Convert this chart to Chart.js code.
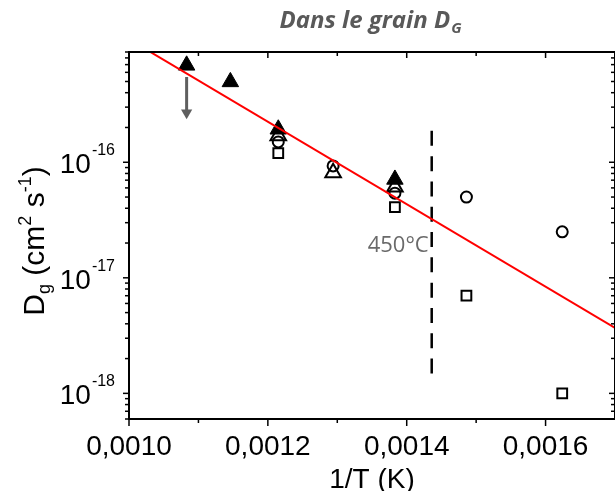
<!DOCTYPE html>
<html>
<head>
<meta charset="utf-8">
<script src="https://cdn.jsdelivr.net/npm/chart.js@4.4.0/dist/chart.umd.min.js"></script>
<style>
  html, body { margin: 0; padding: 0; background: #fff; overflow: hidden; }
  #wrap { width: 615px; height: 491px; position: relative; }
  #c { display: block; }
</style>
</head>
<body>
<div id="wrap"><canvas id="c"></canvas></div>
<script>
// 1/T of the annealing temperatures (K^-1)
const invT = [0.001083, 0.001146, 0.001215, 0.001294, 0.001383, 0.001486, 0.001624];

// Grain diffusion coefficients D_g (cm2 s-1), one list per marker family
const filledTriangles = [6.9e-16, 4.96e-16, 1.93e-16, null, 7.1e-17, null, null];
const openTriangles   = [null, null, 1.7e-16, 8.1e-17, 6.1e-17, null, null];
const openCircles     = [null, null, 1.5e-16, 9.3e-17, 5.4e-17, 5.0e-17, 2.5e-17];
const openSquares     = [null, null, 1.2e-16, null, 4.1e-17, 7.0e-18, 1.0e-18];

// Arrhenius fit line (end points)
const fitX = [0.0010, 0.0017];
const fitY = [1.16e-15, 3.68e-18];

// Upper-bound arrow under the 650 °C point
const arrowX = [0.001083, 0.001083];
const arrowY = [5.48e-16, 2.68e-16];

// Vertical 450 °C limit
const limitX = [0.001436, 0.001436];
const limitY = [1.87e-16, 1.38e-18];
const limitLabel = '450°C';

// Axes
const xRange = [0.0010, 0.0017];
const yRange = [6e-19, 9e-16];
const xTickValues = [0.0010, 0.0012, 0.0014, 0.0016];
const xTickLabels = ['0,0010', '0,0012', '0,0014', '0,0016'];
const xMinorValues = [0.0011, 0.0013, 0.0015];
const yDecades = [-18, -17, -16];

const titleMain = 'Dans le grain D';
const titleSub = 'G';
const xTitle = '1/T (K)';

const pts = (ys) => invT.map((x, i) => ({ x, y: ys[i] })).filter(p => p.y !== null);
const pair = (xs, ys) => xs.map((x, i) => ({ x, y: ys[i] }));

const SANS = '"Liberation Sans", Arial, sans-serif';

// Frame, ticks, labels and titles, placed with the chart's own scales
const framePlugin = {
  id: 'frame',
  afterDraw(chart) {
    const { ctx, chartArea: a, scales: { x, y } } = chart;
    ctx.save();
    const line = (x1, y1, x2, y2) => { ctx.beginPath(); ctx.moveTo(x1, y1); ctx.lineTo(x2, y2); ctx.stroke(); };

    // ticks
    ctx.strokeStyle = '#000';
    ctx.lineWidth = 1.5;
    xTickValues.forEach(v => {
      const px = x.getPixelForValue(v);
      line(px, a.bottom, px, a.bottom + 7);
      line(px, a.top, px, a.top + 6);
    });
    xMinorValues.forEach(v => {
      const px = x.getPixelForValue(v);
      line(px, a.bottom, px, a.bottom + 4);
      line(px, a.top, px, a.top + 4);
    });
    const lo = Math.floor(Math.log10(yRange[0]));
    const hi = Math.ceil(Math.log10(yRange[1]));
    for (let d = lo; d <= hi; d++) {
      for (let m = 1; m <= 9; m++) {
        const v = m * Math.pow(10, d);
        if (v < yRange[0] * 0.999 || v > yRange[1] * 1.001) continue;
        const py = y.getPixelForValue(v);
        const len = m === 1 ? 6 : 4;
        line(a.left - len, py, a.left, py);
        line(a.right - len, py, a.right, py);
      }
    }

    // frame
    ctx.lineWidth = 2;
    ctx.strokeRect(a.left, a.top, a.right - a.left, a.bottom - a.top);

    // x tick labels
    ctx.fillStyle = '#000';
    ctx.font = '28px ' + SANS;
    ctx.textAlign = 'center';
    ctx.textBaseline = 'alphabetic';
    xTickValues.forEach((v, i) => {
      ctx.fillText(xTickLabels[i], x.getPixelForValue(v), a.bottom + 36);
    });

    // y tick labels: 10 with a superscript exponent
    yDecades.forEach(d => {
      const py = y.getPixelForValue(Math.pow(10, d));
      const exp = '-' + Math.abs(d);
      ctx.font = '16px ' + SANS;
      const we = ctx.measureText(exp).width;
      ctx.font = '28px ' + SANS;
      const wb = ctx.measureText('10').width;
      const right = a.left - 14;
      ctx.textAlign = 'left';
      ctx.fillText('10', right - we - wb - 1, py + 11);
      ctx.font = '16px ' + SANS;
      ctx.fillText(exp, right - we, py - 7);
    });

    // x axis title
    ctx.font = '28px ' + SANS;
    ctx.textAlign = 'center';
    ctx.fillText(xTitle, (a.left + a.right) / 2, 488);

    // y axis title, rotated: D_g (cm^2 s^-1)
    const parts = [
      { t: 'D', f: 30, dy: 0 },
      { t: 'g', f: 18, dy: 6 },
      { t: ' (cm', f: 30, dy: 0 },
      { t: '2', f: 18, dy: -13 },
      { t: ' s', f: 30, dy: 0 },
      { t: '-1', f: 18, dy: -13 },
      { t: ')', f: 30, dy: 0 }
    ];
    let total = 0;
    parts.forEach(p => { ctx.font = p.f + 'px ' + SANS; p.w = ctx.measureText(p.t).width; total += p.w; });
    ctx.save();
    ctx.translate(44, 241);
    ctx.rotate(-Math.PI / 2);
    ctx.textAlign = 'left';
    let cx = -total / 2;
    parts.forEach(p => {
      ctx.font = p.f + 'px ' + SANS;
      ctx.fillText(p.t, cx, p.dy);
      cx += p.w;
    });
    ctx.restore();

    // chart title
    ctx.fillStyle = '#595959';
    ctx.font = 'italic bold 24px "Open Sans", sans-serif';
    const wm = ctx.measureText(titleMain).width;
    ctx.font = 'italic bold 15px "Open Sans", sans-serif';
    const ws = ctx.measureText(titleSub).width;
    const tx = 370 - (wm + ws) / 2;
    ctx.textAlign = 'left';
    ctx.font = 'italic bold 24px "Open Sans", sans-serif';
    ctx.fillText(titleMain, tx, 28);
    ctx.font = 'italic bold 15px "Open Sans", sans-serif';
    ctx.fillText(titleSub, tx + wm + 1, 33);

    // 450 °C label beside the dashed limit
    ctx.fillStyle = '#6a6a6a';
    ctx.font = '22px "Open Sans", sans-serif';
    ctx.textAlign = 'right';
    ctx.fillText(limitLabel, x.getPixelForValue(limitX[0]) - 3, 252);

    ctx.restore();
  }
};

new Chart(document.getElementById('c'), {
  type: 'scatter',
  data: {
    datasets: [
      {
        label: 'Ajustement',
        type: 'line',
        data: pair(fitX, fitY),
        borderColor: '#ff0000',
        borderWidth: 2,
        pointRadius: 0,
        fill: false,
        order: 0
      },
      {
        label: 'Triangles pleins',
        data: pts(filledTriangles),
        pointStyle: 'triangle',
        pointRadius: 9.5,
        backgroundColor: '#000',
        borderColor: '#000',
        borderWidth: 1,
        order: 1
      },
      {
        label: 'Limite',
        type: 'line',
        data: pair(arrowX, arrowY),
        borderColor: '#5f5f5f',
        backgroundColor: '#5f5f5f',
        borderWidth: 3,
        pointStyle: 'triangle',
        pointRotation: 180,
        pointRadius: [0, 6.5],
        pointBorderWidth: 0,
        order: 2
      },
      {
        label: 'Triangles ouverts',
        data: pts(openTriangles),
        pointStyle: 'triangle',
        pointRadius: 9,
        backgroundColor: 'rgba(0,0,0,0)',
        borderColor: '#000',
        borderWidth: 2,
        order: 3
      },
      {
        label: 'Cercles',
        data: pts(openCircles),
        pointStyle: 'circle',
        pointRadius: 5.5,
        backgroundColor: 'rgba(0,0,0,0)',
        borderColor: '#000',
        borderWidth: 2,
        order: 4
      },
      {
        label: 'Carrés',
        data: pts(openSquares),
        pointStyle: 'rect',
        pointRadius: 6.9,
        backgroundColor: 'rgba(0,0,0,0)',
        borderColor: '#000',
        borderWidth: 2,
        order: 5
      },
      {
        label: '450 °C',
        type: 'line',
        data: pair(limitX, limitY),
        borderColor: '#000',
        borderWidth: 2.5,
        borderDash: [15, 10.3],
        pointRadius: 0,
        order: 6
      }
    ]
  },
  options: {
    responsive: true,
    maintainAspectRatio: false,
    animation: false,
    events: [],
    layout: { autoPadding: false, padding: { left: 129, top: 52, right: -2, bottom: 72 } },
    plugins: { legend: { display: false }, tooltip: { enabled: false }, title: { display: false } },
    scales: {
      x: { type: 'linear', min: xRange[0], max: xRange[1], display: false },
      y: { type: 'logarithmic', min: yRange[0], max: yRange[1], display: false }
    }
  },
  plugins: [framePlugin]
});
</script>
</body>
</html>
